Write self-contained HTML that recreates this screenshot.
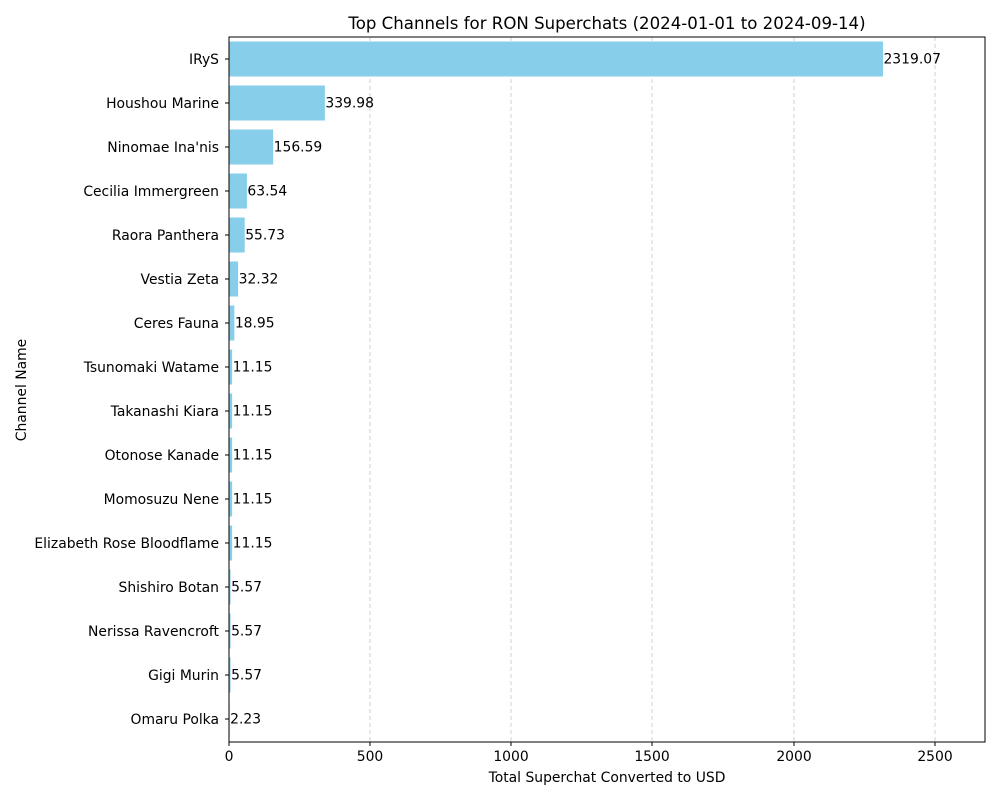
<!DOCTYPE html>
<html><head><meta charset="utf-8"><style>body{margin:0;background:#fff}svg{display:block;font-family:"DejaVu Sans","Liberation Sans",sans-serif}</style></head><body>
<svg width="1000" height="800" viewBox="0 0 1000 800" xmlns="http://www.w3.org/2000/svg">
<rect width="1000" height="800" fill="#fff"/>
<text x="607" y="29" text-anchor="middle" font-size="16.6">Top Channels for RON Superchats (2024-01-01 to 2024-09-14)</text>
<g stroke="#c8c8c8" stroke-dasharray="4,3" stroke-width="0.8">
<line x1="370" y1="37" x2="370" y2="742"/><line x1="511" y1="37" x2="511" y2="742"/><line x1="652" y1="37" x2="652" y2="742"/><line x1="794" y1="37" x2="794" y2="742"/><line x1="935" y1="37" x2="935" y2="742"/>
</g>
<g fill="#87ceeb" id="bars"></g>
<g id="lbl" font-size="13.9"></g>
<rect x="229" y="37" width="756" height="705" fill="none" stroke="#000" stroke-width="1"/>
<g font-size="13.9" text-anchor="middle">
<text x="229" y="761">0</text><text x="370" y="761">500</text><text x="511" y="761">1000</text><text x="652" y="761">1500</text><text x="794" y="761">2000</text><text x="935" y="761">2500</text>
</g>
<g stroke="#000"><line x1="229" y1="742" x2="229" y2="746"/><line x1="370" y1="742" x2="370" y2="746"/><line x1="511" y1="742" x2="511" y2="746"/><line x1="652" y1="742" x2="652" y2="746"/><line x1="794" y1="742" x2="794" y2="746"/><line x1="935" y1="742" x2="935" y2="746"/></g>
<text x="607" y="782" text-anchor="middle" font-size="13.9">Total Superchat Converted to USD</text>
<text transform="translate(26,390) rotate(-90)" text-anchor="middle" font-size="13.9">Channel Name</text>
<script>
var d=[["IRyS",2319.07],["Houshou Marine",339.98],["Ninomae Ina'nis",156.59],["Cecilia Immergreen",63.54],["Raora Panthera",55.73],["Vestia Zeta",32.32],["Ceres Fauna",18.95],["Tsunomaki Watame",11.15],["Takanashi Kiara",11.15],["Otonose Kanade",11.15],["Momosuzu Nene",11.15],["Elizabeth Rose Bloodflame",11.15],["Shishiro Botan",5.57],["Nerissa Ravencroft",5.57],["Gigi Murin",5.57],["Omaru Polka",2.23]];
var ns="http://www.w3.org/2000/svg",b=document.getElementById("bars"),l=document.getElementById("lbl");
d.forEach(function(r,i){var c=59+i*44,w=r[1]*0.282;
var e=document.createElementNS(ns,"rect");e.setAttribute("x",229);e.setAttribute("y",c-17.5);e.setAttribute("width",w);e.setAttribute("height",35);b.appendChild(e);
var t=document.createElementNS(ns,"text");t.setAttribute("x",229+w+0.5);t.setAttribute("y",c+4.5);t.textContent=r[1].toFixed(2);l.appendChild(t);
var n=document.createElementNS(ns,"text");n.setAttribute("x",219);n.setAttribute("y",c+5);n.setAttribute("text-anchor","end");n.textContent=r[0];l.appendChild(n);
var k=document.createElementNS(ns,"line");k.setAttribute("x1",225);k.setAttribute("x2",229);k.setAttribute("y1",c);k.setAttribute("y2",c);k.setAttribute("stroke","#000");l.appendChild(k);});
</script>
</svg>
</body></html>
